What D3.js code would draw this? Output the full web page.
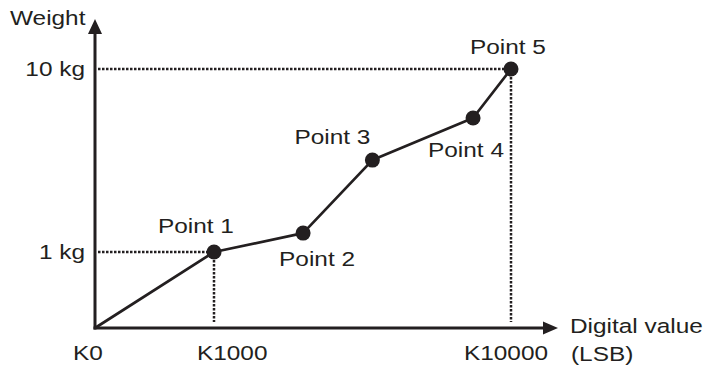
<!DOCTYPE html>
<html>
<head>
<meta charset="utf-8">
<script src="https://cdn.jsdelivr.net/npm/d3@7"></script>
<style>
    body { margin: 0; background: #fff; }
    svg { display: block; }
    text { font-family: "Liberation Sans", Arial, sans-serif; font-size: 20.5px; fill: #231f20; }
</style>
</head>
<body>
<svg id="chart" width="707" height="369"></svg>
<script>
// Calibration points (digital value -> weight in kg)
const pointNames = ['Point 1', 'Point 2', 'Point 3', 'Point 4', 'Point 5'];
const digitalValues = [1000, 3700, 5800, 8850, 10000];
const weights = [1, 1.93, 5.52, 7.59, 10];

// Axis tick labels
const xTickValues = [0, 1000, 10000];
const xTickLabels = ['K0', 'K1000', 'K10000'];
const yTickValues = [1, 10];
const yTickLabels = ['1 kg', '10 kg'];

// label placement relative to each point (left edge, baseline)
const pointLabelOffsets = [[-56, -19], [-24, 33], [-78, -16], [-45, 39], [-41, -15]];
const xTickOffsets = [-22, -17, -47];

const ink = '#231f20';
const stretch = 1.19; // text in the picture is wider than plain Arial

const svg = d3.select('#chart');

// schematic axes: piecewise scales so the sketch spacing is kept
const x = d3.scaleLinear().domain([0, 1000, 10000]).range([95, 214, 511]);
const y = d3.scaleLinear().domain([0, 1, 10]).range([328, 252, 69]);

function addText(px, py, str, anchor) {
    svg.append('text')
        .attr('transform', `translate(${px},${py}) scale(${stretch},1)`)
        .attr('text-anchor', anchor || 'start')
        .text(str);
}

// Dotted guide lines for Point 1 and Point 5
[0, 4].forEach(i => {
    const px = x(digitalValues[i]);
    const py = y(weights[i]);
    svg.append('line')
        .attr('x1', x(0) + 3).attr('y1', py).attr('x2', px).attr('y2', py)
        .attr('stroke', ink).attr('stroke-width', 2.5).attr('stroke-dasharray', '2.5,1.5');
    svg.append('line')
        .attr('x1', px).attr('y1', py).attr('x2', px).attr('y2', y(0) - 6)
        .attr('stroke', ink).attr('stroke-width', 2.5).attr('stroke-dasharray', '2.5,1.5');
});

// Characteristic line from the origin through every point
const lineData = [[0, 0]].concat(digitalValues.map((d, i) => [d, weights[i]]));
svg.append('path')
    .datum(lineData)
    .attr('fill', 'none')
    .attr('stroke', ink)
    .attr('stroke-width', 2.7)
    .attr('stroke-linejoin', 'round')
    .attr('d', d3.line().x(d => x(d[0])).y(d => y(d[1])));

// Axes with arrow heads
const x0 = x(0), y0 = y(0);
svg.append('line')
    .attr('x1', x0).attr('y1', y0 + 1.5).attr('x2', x0).attr('y2', 30)
    .attr('stroke', ink).attr('stroke-width', 3);
svg.append('path')
    .attr('d', `M${x0},19 L${x0 - 7},34 L${x0 + 7},34 Z`)
    .attr('fill', ink);
svg.append('line')
    .attr('x1', x0 - 1.5).attr('y1', y0).attr('x2', 546).attr('y2', y0)
    .attr('stroke', ink).attr('stroke-width', 3);
svg.append('path')
    .attr('d', `M558,${y0} L543,${y0 - 6.5} L543,${y0 + 6.5} Z`)
    .attr('fill', ink);

// Points
svg.selectAll('.pt')
    .data(digitalValues)
    .enter().append('circle')
    .attr('class', 'pt')
    .attr('cx', d => x(d))
    .attr('cy', (d, i) => y(weights[i]))
    .attr('r', 7.5)
    .attr('fill', ink);

// Point labels
pointNames.forEach((name, i) => {
    addText(x(digitalValues[i]) + pointLabelOffsets[i][0], y(weights[i]) + pointLabelOffsets[i][1], name);
});

// Tick labels
xTickValues.forEach((v, i) => addText(x(v) + xTickOffsets[i], 360, xTickLabels[i]));
yTickValues.forEach((v, i) => addText(85, y(v) + 6.5, yTickLabels[i], 'end'));

// Axis titles
addText(10, 25, 'Weight');
addText(570, 333, 'Digital value');
addText(571, 361, '(LSB)');
</script>
</body>
</html>
